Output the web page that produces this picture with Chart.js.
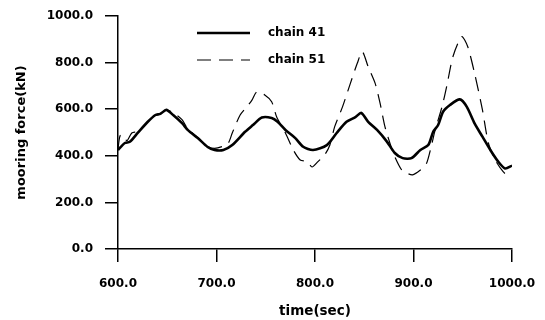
<!DOCTYPE html>
<html>
<head>
<meta charset="utf-8">
<script src="https://cdn.jsdelivr.net/npm/chart.js@4.4.1/dist/chart.umd.min.js"></script>
<style>
  html, body { margin: 0; padding: 0; background: #fff; }
  canvas { display: block; }
</style>
</head>
<body>
<canvas id="c" width="545" height="320"></canvas>
<script>
// ---- data ----
const seriesNames = ['chain 41', 'chain 51'];

const time41  = [600,607,612,620,630,638,643,649,656,665,671,681,691,698,707,716,729,737,746,756,762,770,780,788,798,812,822,832,841,847,854,863,873,881,889,898,907,915,920,925,930,937,947,954,962,970,978,986,993,1000];
const force41 = [425,455,460,498,545,575,580,597,575,540,510,476,438,425,425,446,503,532,564,562,546,511,476,439,425,446,498,546,566,584,546,511,461,412,390,390,425,446,503,532,589,618,642,611,539,482,425,375,346,358];

const time51  = [600,602,605,609,614,620,630,638,643,649,656,665,671,681,691,698,706,712,716,724,731,736,741,749,756,761,770,778,785,792,797,803,810,815,820,828,836,843,848,854,861,866,871,876,881,888,893,899,907,913,918,922,929,934,940,949,955,962,970,976,983,991,999];
const force51 = [430,485,490,465,498,505,545,578,582,597,585,555,515,478,440,432,440,455,498,575,611,639,675,661,632,568,498,425,382,375,352,375,405,445,525,611,712,798,847,782,712,627,525,455,396,339,326,318,339,365,440,511,611,704,825,911,869,754,597,455,382,332,300];

const xTicks = [600, 700, 800, 900, 1000];
const yTicks = [0, 200, 400, 600, 800, 1000];
const xTitle = 'time(sec)';
const yTitle = 'mooring force(kN)';

// ---- build chart ----
const pts = (xs, ys) => xs.map((x, i) => ({ x: x, y: ys[i] }));
const FONT = 'DejaVu Sans';

const inlineLegend = {
  id: 'inlineLegend',
  afterDraw(chart) {
    const ctx = chart.ctx;
    const rows = [33, 60];
    chart.data.datasets.forEach((ds, i) => {
      const y = rows[i];
      ctx.save();
      ctx.strokeStyle = ds.borderColor;
      ctx.lineWidth = ds.borderWidth;
      ctx.setLineDash(ds.borderDash || []);
      ctx.beginPath();
      ctx.moveTo(197, y);
      ctx.lineTo(250, y);
      ctx.stroke();
      ctx.setLineDash([]);
      ctx.fillStyle = '#000';
      ctx.font = 'bold 12px "' + FONT + '"';
      ctx.textBaseline = 'middle';
      ctx.textAlign = 'left';
      ctx.fillText(ds.label, 268, y);
      ctx.restore();
    });
  }
};

new Chart(document.getElementById('c'), {
  type: 'line',
  data: {
    datasets: [
      {
        label: seriesNames[0],
        data: pts(time41, force41),
        borderColor: '#000',
        borderWidth: 2.6,
        pointRadius: 0,
        tension: 0.25,
        fill: false
      },
      {
        label: seriesNames[1],
        data: pts(time51, force51),
        borderColor: '#000',
        borderWidth: 1.2,
        borderDash: [14, 8],
        pointRadius: 0,
        tension: 0.25,
        fill: false
      }
    ]
  },
  options: {
    responsive: false,
    animation: false,
    devicePixelRatio: 1,
    layout: { padding: { left: 0, right: 33, top: 16, bottom: 0 } },
    plugins: { legend: { display: false }, tooltip: { enabled: false } },
    scales: {
      x: {
        type: 'linear',
        min: xTicks[0],
        max: xTicks[xTicks.length - 1],
        afterBuildTicks: (s) => { s.ticks = xTicks.map(v => ({ value: v })); },
        afterFit: (s) => { s.height = 71; s.paddingLeft = 0; s.paddingRight = 0; },
        ticks: {
          color: '#000',
          padding: 15,
          maxRotation: 0,
          font: { family: FONT, weight: 'bold', size: 12 },
          callback: (v) => Number(v).toFixed(1)
        },
        grid: { display: true, drawOnChartArea: false, drawTicks: true, tickLength: 13, color: '#000', lineWidth: 1.5 },
        border: { display: true, color: '#000', width: 1.5 },
        title: {
          display: true,
          text: xTitle,
          color: '#000',
          font: { family: FONT, weight: 'bold', size: 13.5, lineHeight: 1.1 },
          padding: { top: 0, bottom: 1 }
        }
      },
      y: {
        type: 'linear',
        min: yTicks[0],
        max: yTicks[yTicks.length - 1],
        afterBuildTicks: (s) => { s.ticks = yTicks.map(v => ({ value: v })); },
        afterFit: (s) => { s.width = 118; s.paddingTop = 0; s.paddingBottom = 0; },
        ticks: {
          color: '#000',
          padding: 12,
          font: { family: FONT, weight: 'bold', size: 12 },
          callback: (v) => Number(v).toFixed(1)
        },
        grid: { display: true, drawOnChartArea: false, drawTicks: true, tickLength: 13, color: '#000', lineWidth: 1.5 },
        border: { display: true, color: '#000', width: 1.5 },
        title: {
          display: true,
          text: yTitle,
          color: '#000',
          font: { family: FONT, weight: 'bold', size: 13, lineHeight: 1.2 },
          padding: { top: 14, bottom: 0 }
        }
      }
    }
  },
  plugins: [inlineLegend]
});
</script>
</body>
</html>
